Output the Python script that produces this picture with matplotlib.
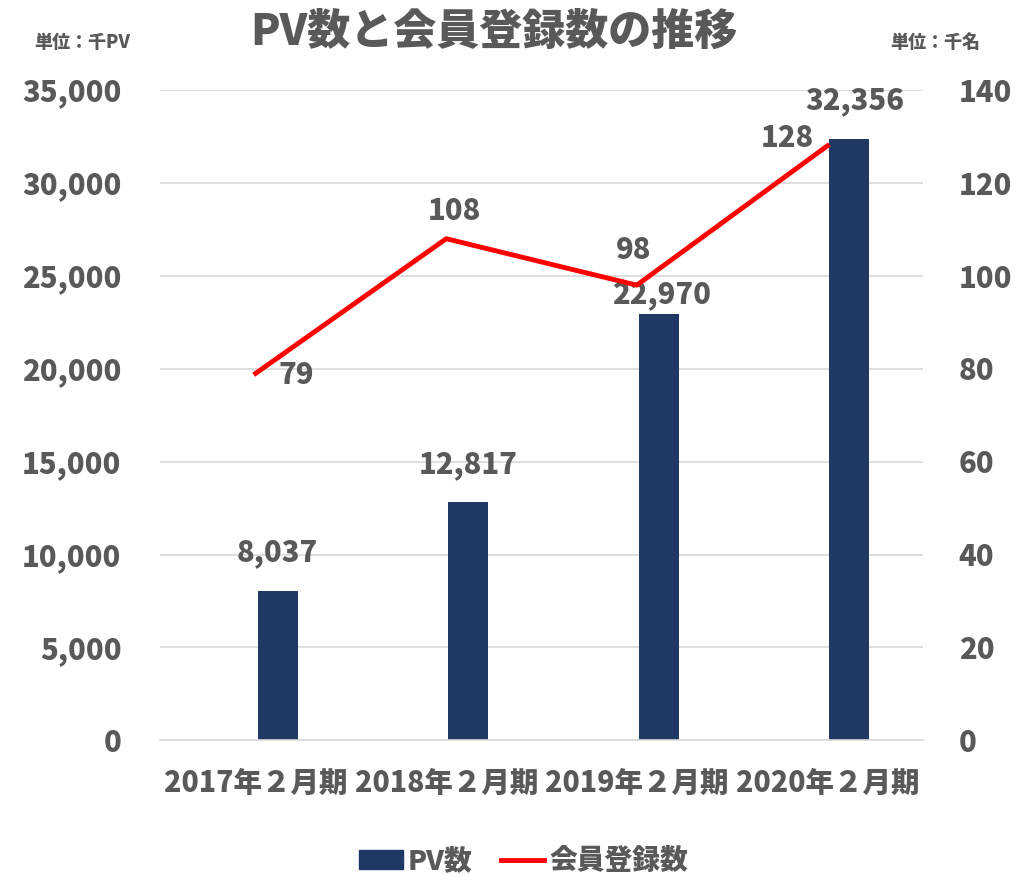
import numpy as np
import matplotlib.pyplot as plt
from matplotlib.lines import Line2D
from matplotlib.patches import Patch

plt.rcParams['font.family'] = ['Noto Sans CJK JP', 'DejaVu Sans']
plt.rcParams['font.weight'] = 'heavy'

# データ
categories = ['2017年２月期', '2018年２月期', '2019年２月期', '2020年２月期']
pv = [8037, 12817, 22970, 32356]          # 千PV
members = [79, 108, 98, 128]               # 千名

gray = '#595959'
navy = '#1f3864'
W = 'heavy'

fig = plt.figure(figsize=(10.15, 8.75), dpi=100)
ax = fig.add_axes([0.158, 0.154, 0.751, 0.743])
ax2 = ax.twinx()

x = np.arange(len(categories))

# 棒グラフ (PV数)
ax.bar(x + 0.01, pv, width=0.21, align='edge', color=navy, zorder=2)
bar_off = [(0, 38), (0, 37), (3, 18), (6, 38)]   # px
for xi, v, (dx, dy) in zip(x, pv, bar_off):
    ax.annotate(f'{v:,}', (xi + 0.115, v), xytext=(dx * 0.72, dy * 0.72),
                textcoords='offset points', ha='center', va='center',
                fontsize=21, color=gray, fontweight=W)

ax.set_ylim(0, 35000)
ax.set_yticks(np.arange(0, 35001, 5000))
ax.set_yticklabels([f'{t:,}' for t in range(0, 35001, 5000)])
ax.set_xlim(-0.5, 3.5)
ax.set_xticks(x)
ax.set_xticklabels(categories)
ax.grid(axis='y', color='#d9d9d9', linewidth=1.2, zorder=0)
ax.set_axisbelow(True)
for s in ['top', 'left', 'right']:
    ax.spines[s].set_visible(False)
ax.spines['bottom'].set_color('#d9d9d9')
ax.spines['bottom'].set_linewidth(1.2)
ax.tick_params(axis='y', length=0, labelsize=21, labelcolor=gray, pad=28)
ax.tick_params(axis='x', length=0, labelsize=20.5, labelcolor=gray, pad=20)
for lab in ax.get_xticklabels() + ax.get_yticklabels():
    lab.set_fontweight(W)

# 折れ線 (会員登録数)
ax2.plot(x, members, color='#ff0000', linewidth=3.5, zorder=3)
ax2.set_ylim(0, 140)
ax2.set_yticks(np.arange(0, 141, 20))
for s in ['top', 'left', 'right', 'bottom']:
    ax2.spines[s].set_visible(False)
ax2.tick_params(axis='y', length=0, labelsize=21, labelcolor=gray, pad=26)
for lab in ax2.get_yticklabels():
    lab.set_fontweight(W)

line_off = [(41, -2), (8, 27), (-3, 35), (-40, 8)]   # px
for xi, v, (dx, dy) in zip(x, members, line_off):
    ax2.annotate(f'{v}', (xi, v), xytext=(dx * 0.72, dy * 0.72),
                 textcoords='offset points', ha='center', va='center',
                 fontsize=21, color=gray, fontweight=W)

# タイトル・単位
fig.text(0.487, 0.963, 'PV数と会員登録数の推移', ha='center', va='center',
         fontsize=31, color=gray, fontweight=W)
fig.text(0.081, 0.951, '単位：千PV', ha='center', va='center',
         fontsize=13, color=gray, fontweight=W)
fig.text(0.921, 0.951, '単位：千名', ha='center', va='center',
         fontsize=13, color=gray, fontweight=W)

# 凡例
handles = [Patch(color=navy), Line2D([0], [0], color='#ff0000', linewidth=3.5)]
fig.legend(handles, ['PV数', '会員登録数'], loc='center', bbox_to_anchor=(0.516, 0.016),
           ncol=2, frameon=False, prop={'size': 20, 'weight': W}, labelcolor=gray,
           handlelength=1.55, handletextpad=0.2, columnspacing=1.0)

fig.savefig('out.png', dpi=100)
